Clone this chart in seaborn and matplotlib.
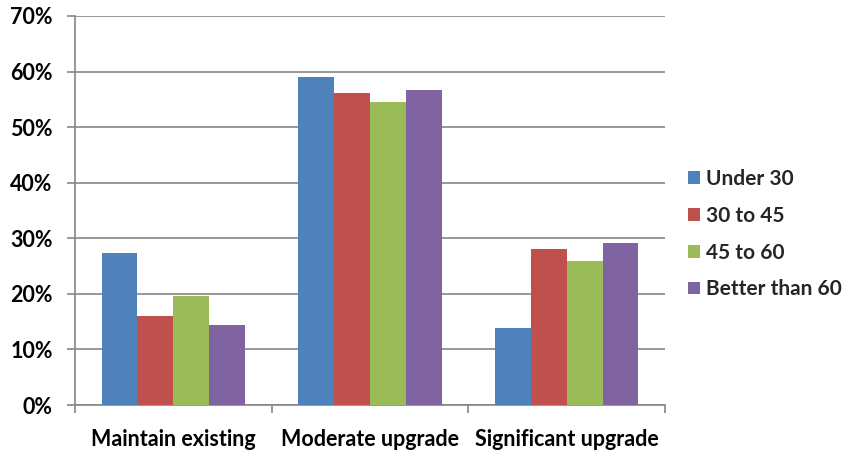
import matplotlib
matplotlib.use("Agg")
import matplotlib.pyplot as plt
import seaborn as sns
import pandas as pd
import numpy as np
from matplotlib.ticker import FixedLocator, PercentFormatter

categories = ["Maintain existing", "Moderate upgrade", "Significant upgrade"]
groups = ["Under 30", "30 to 45", "45 to 60", "Better than 60"]
under_30 = [27.4, 59.0, 13.8]
age_30_45 = [16.1, 56.1, 28.0]
age_45_60 = [19.6, 54.6, 26.0]
better_60 = [14.4, 56.7, 29.1]
colors = ["#4F81BD", "#C0504D", "#9BBB59", "#8064A2"]

series = [under_30, age_30_45, age_45_60, better_60]
rows = []
for g, vals in zip(groups, series):
    for c, v in zip(categories, vals):
        rows.append({"category": c, "group": g, "value": v})
df = pd.DataFrame(rows)

sns.set_theme(style="white")
plt.rcParams["font.family"] = ["Lato", "DejaVu Sans"]
plt.rcParams["font.weight"] = "bold"

fig = plt.figure(figsize=(8.5, 4.57), dpi=100)
ax = fig.add_axes([75/850, 1-405/457, (665-75)/850, (405-16)/457])

sns.barplot(data=df, x="category", y="value", hue="group", order=categories,
            hue_order=groups, palette=colors, width=0.73, gap=0,
            saturation=1, ax=ax, linewidth=0, edgecolor="none", zorder=3)

ax.set_ylim(0, 70)
ax.set_xlim(-0.5, 2.5)
ax.yaxis.set_major_locator(FixedLocator(np.arange(0, 71, 10)))
ax.yaxis.set_major_formatter(PercentFormatter(decimals=0))
ax.grid(axis="y", color="#868686", linewidth=1.2, zorder=0)
ax.set_axisbelow(True)

for s in ["top", "right"]:
    ax.spines[s].set_visible(False)
for s in ["left", "bottom"]:
    ax.spines[s].set_color("#868686")
    ax.spines[s].set_linewidth(1.2)

fs = 15.5
ax.tick_params(axis="y", which="major", length=6, width=1.2, color="#868686",
               pad=10, labelsize=fs, labelcolor="black", left=True)
ax.tick_params(axis="x", which="major", length=0, pad=17, labelsize=fs,
               labelcolor="black")
ax.set_xticks([-0.5, 0.5, 1.5, 2.5], minor=True)
ax.tick_params(axis="x", which="minor", length=6, width=1.2, color="#868686",
               bottom=True)
for lab in ax.get_xticklabels() + ax.get_yticklabels():
    lab.set_fontweight("bold")
ax.set_xlabel("")
ax.set_ylabel("")

lfs = 15
leg = ax.legend(loc="upper left", bbox_to_anchor=(680/850, 1-161/457),
                bbox_transform=fig.transFigure, frameon=False,
                fontsize=lfs, handlelength=0.58, handleheight=0.58,
                handletextpad=0.25, labelspacing=0.8, borderaxespad=0)
for t in leg.get_texts():
    t.set_fontweight("bold")

fig.savefig("out.png", dpi=100)
